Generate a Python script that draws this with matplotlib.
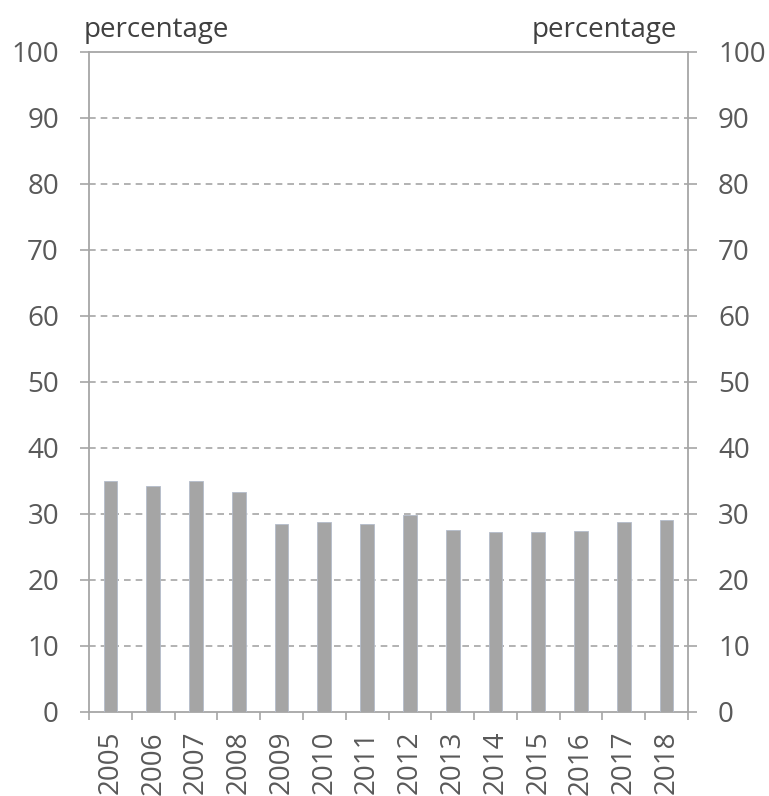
import matplotlib
matplotlib.use("Agg")
import matplotlib.pyplot as plt
import numpy as np

years = ["2005", "2006", "2007", "2008", "2009", "2010", "2011",
         "2012", "2013", "2014", "2015", "2016", "2017", "2018"]
values = [35.0, 34.2, 34.9, 33.3, 28.5, 28.7, 28.5,
          29.8, 27.5, 27.3, 27.2, 27.4, 28.7, 29.0]
yticks = [0, 10, 20, 30, 40, 50, 60, 70, 80, 90, 100]

plt.rcParams['font.family'] = ['Open Sans', 'DejaVu Sans']
W, H = 769, 796
PX = 72 / 100  # points per pixel
fig = plt.figure(figsize=(W / 100, H / 100), dpi=100)
ax = fig.add_axes([89 / W, 1 - 712 / H, (688 - 89) / W, (712 - 51.5) / H])

grey = "#a6a6a6"
txt = "#595959"
x = np.arange(len(years))
ax.bar(x, values, width=0.32, color="#a5a5a5", edgecolor="#b4bccb", linewidth=0.6, zorder=3)

ax.set_xlim(-0.5, len(years) - 0.5)
ax.set_ylim(0, 100)
ax.set_yticks(yticks)
for v in yticks[1:-1]:
    ax.axhline(v, color=grey, linestyle=(0, (4, 3)), linewidth=1.2, zorder=1)

for side in ["left", "right", "bottom", "top"]:
    ax.spines[side].set_color(grey)
    ax.spines[side].set_linewidth(1.3)

ax.tick_params(axis="y", which="major", left=True, right=True, labelleft=True, labelright=True,
               length=9 * PX, width=1.2, color=grey, labelsize=20, labelcolor=txt, pad=21 * PX)

ax.set_xticks(x)
ax.set_xticklabels(years, rotation=90, fontsize=20, color=txt)
ax.tick_params(axis="x", which="major", length=0, pad=19 * PX)
ax.set_xticks(np.arange(-0.5, len(years)), minor=True)
ax.tick_params(axis="x", which="minor", length=8 * PX, width=1.2, color=grey)

fig.text(84 / W, 1 - 37 / H, "percentage", fontsize=20, color="#404040", ha="left", va="baseline")
fig.text(677 / W, 1 - 37 / H, "percentage", fontsize=20, color="#404040", ha="right", va="baseline")

fig.savefig("out.png", dpi=100)
